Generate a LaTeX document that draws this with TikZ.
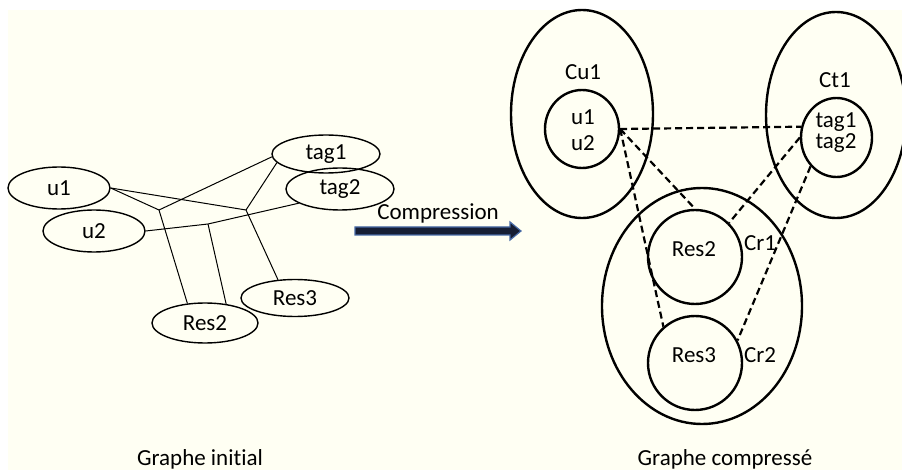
\documentclass[tikz,border=0pt]{standalone}
\usepackage{fontspec}
\setmainfont{Carlito}[Ligatures=NoCommon]
\usetikzlibrary{shapes.geometric,calc}
\definecolor{cream}{RGB}{255,255,243}
\definecolor{navy}{RGB}{22,30,52}
\definecolor{arrowblue}{RGB}{70,105,165}
\begin{document}
\begin{tikzpicture}[x=1pt,y=-1pt,
  every node/.style={font=\fontsize{23}{27}\selectfont, text=black},
  thinell/.style={ellipse, draw, line width=1.4pt, inner sep=0pt},
  thinedge/.style={line width=1pt},
  thickell/.style={ellipse, draw, line width=2.4pt, inner sep=0pt},
  dashedge/.style={line width=2.2pt, dash pattern=on 7pt off 4pt},
  lbl/.style={inner sep=0pt}]
\useasboundingbox (0,0) rectangle (902,470);
\fill[white] (0,0) rectangle (902,470);
\fill[cream] (8,10) rectangle (902,470);

% ---------- initial graph ----------
\node[thinell, minimum width=102pt, minimum height=42pt] (u1) at (59,188) {u1};
\node[thinell, minimum width=102pt, minimum height=42pt] (u2) at (94,231) {u2};
\node[thinell, minimum width=108pt, minimum height=38pt] (tag1) at (326,154) {tag1};
\node[thinell, minimum width=108pt, minimum height=42pt] (tag2) at (340,189) {tag2};
\node[thinell, minimum width=108pt, minimum height=37pt] (res3) at (295,298) {Res3};
\node[thinell, minimum width=106pt, minimum height=40pt] (res2) at (205,323) {Res2};

\coordinate (j1) at (159,210);
\coordinate (j2) at (246,210);
\coordinate (j3) at (208,224);

\draw[thinedge] (u1.east) -- (j1);
\draw[thinedge] (u1.east) -- (j2);
\draw[thinedge] (j1) -- (tag1.183);
\draw[thinedge] (j1) -- (res2.132);
\draw[thinedge] (j2) -- (tag1.190);
\draw[thinedge] (j2) -- (res3.133);
\draw[thinedge] (u2.east) -- (j3) -- (tag2.199);
\draw[thinedge] (j3) -- (res2.42);

% ---------- compression arrow ----------
\coordinate (arrS) at (355,231);
\coordinate (arrE) at (521,231);
\draw[fill=navy, draw=arrowblue, line width=1.2pt, line join=miter]
  ($(arrS)+(0,-4)$) -- (510,227) -- (510,222) -- (arrE) -- (510,240) -- (510,235) -- ($(arrS)+(0,4)$) -- cycle;
\node[lbl] (comp) at (438,213) {Compression};

% ---------- compressed graph ----------
\node[thickell, minimum width=142pt, minimum height=208pt] (cu1) at (582,114) {};
\node[thickell, minimum width=74pt, minimum height=78pt] (cuin) at (582,129) {};
\node[thickell, minimum width=140pt, minimum height=206pt] (ct1) at (836,115) {};
\node[thickell, minimum width=71pt, minimum height=79pt] (tagin) at (836.5,137.5) {};
\node[thickell, minimum width=200pt, minimum height=236pt] (cr) at (702,306) {};
\node[thickell, minimum width=94pt, minimum height=94pt] (r2c) at (695,257) {};
\node[thickell, minimum width=94pt, minimum height=94pt] (r3c) at (695,363) {};

\node[lbl] (cu1t) at (583,72) {Cu1};
\node[lbl] (u1t) at (583,117) {u1};
\node[lbl] (u2t) at (583,143) {u2};
\node[lbl] (ct1t) at (835,80) {Ct1};
\node[lbl] (tag1t) at (836,122) {tag1};
\node[lbl] (tag2t) at (836,143) {tag2};
\node[lbl] (r2t) at (694,249) {Res2};
\node[lbl] (r3t) at (694,355) {Res3};
\node[lbl] (cr1t) at (760,243) {Cr1};
\node[lbl] (cr2t) at (760,355) {Cr2};

\draw[dashedge] (cuin.east) -- (tagin.163);
\draw[dashedge] (cuin.east) -- (r2c.north);
\draw[dashedge] (cuin.east) -- (r3c.131);
\draw[dashedge] (tagin.west) -- (r2c.45);
\draw[dashedge] (tagin.228) -- (r3c.28);

% ---------- captions ----------
\node[lbl, anchor=base] (cap1) at (200,465) {Graphe initial};
\node[lbl, anchor=base] (cap2) at (725,465) {Graphe compressé};
\end{tikzpicture}
\end{document}
